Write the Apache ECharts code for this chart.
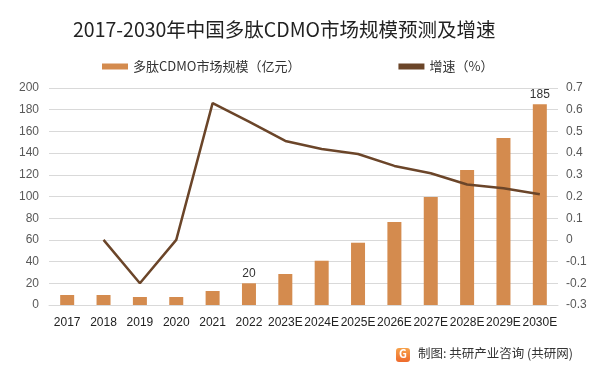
<!DOCTYPE html>
<html>
<head>
<meta charset="utf-8">
<script src="https://cdn.jsdelivr.net/npm/echarts@6/dist/echarts.min.js"></script>
<style>
  html, body { margin: 0; padding: 0; background: #fff; }
  #chart { width: 601px; height: 375px; }
</style>
</head>
<body>
<div id="chart"></div>
<script>
var years = ['2017', '2018', '2019', '2020', '2021', '2022', '2023E', '2024E', '2025E', '2026E', '2027E', '2028E', '2029E', '2030E'];
var marketSize = [9.2, 9.2, 7.4, 7.4, 12.9, 20, 28.6, 40.8, 57.4, 76.5, 99.5, 124.4, 153.9, 185];
var growthRate = ['-', 0.0, -0.2, 0.0, 0.63, 0.545, 0.456, 0.419, 0.396, 0.341, 0.307, 0.255, 0.238, 0.21];
var labelShown = ['2022', '2030E'];

var font = 'Noto Sans CJK SC';
var myChart = echarts.init(document.getElementById('chart'));

var barData = marketSize.map(function (v, i) {
    return {
        value: v,
        label: { show: labelShown.indexOf(years[i]) >= 0 }
    };
});

option = {
    backgroundColor: '#fff',
    textStyle: { fontFamily: font },
    title: {
        text: '2017-2030年中国多肽CDMO市场规模预测及增速',
        left: 68,
        top: 15,
        textStyle: { fontSize: 19.5, fontWeight: 'normal', color: '#222', fontFamily: font }
    },
    legend: {
        top: 55,
        left: 97,
        itemGap: 98,
        itemWidth: 26,
        itemHeight: 6,
        textStyle: { fontSize: 13, color: '#333', fontFamily: font },
        data: [
            { name: '多肽CDMO市场规模（亿元）', icon: 'rect' },
            { name: '增速（%）', icon: 'rect' }
        ]
    },
    grid: { left: 49, right: 43, top: 88, bottom: 70 },
    xAxis: {
        type: 'category',
        data: years,
        axisLine: { lineStyle: { color: '#d9d9d9' } },
        axisTick: { show: false },
        axisLabel: { interval: 0, color: '#222', fontSize: 12, margin: 12, fontFamily: 'Liberation Sans' }
    },
    yAxis: [
        {
            type: 'value',
            min: 0, max: 200, interval: 20,
            axisLine: { show: false },
            axisTick: { show: false },
            axisLabel: { color: '#595959', fontSize: 12, margin: 10, fontFamily: 'Liberation Sans' },
            splitLine: { lineStyle: { color: '#d9d9d9' } }
        },
        {
            type: 'value',
            min: -0.3, max: 0.7, interval: 0.1,
            axisLine: { show: false },
            axisTick: { show: false },
            axisLabel: {
                color: '#595959', fontSize: 12, margin: 8, fontFamily: 'Liberation Sans',
                formatter: function (v) { return String(Math.round(v * 10) / 10); }
            },
            splitLine: { show: false }
        }
    ],
    series: [
        {
            name: '多肽CDMO市场规模（亿元）',
            type: 'bar',
            data: barData,
            barWidth: 14,
            itemStyle: { color: '#d48b4e' },
            label: { position: 'top', color: '#333', fontSize: 12, distance: 4, fontFamily: 'Liberation Sans' }
        },
        {
            name: '增速（%）',
            type: 'line',
            yAxisIndex: 1,
            data: growthRate,
            symbol: 'none',
            lineStyle: { width: 2.5, color: '#6b4529' },
            itemStyle: { color: '#6b4529' }
        }
    ],
    graphic: [
        {
            type: 'rect',
            left: 396, top: 348,
            shape: { width: 14, height: 14, r: 3 },
            style: {
                fill: new echarts.graphic.LinearGradient(0, 0, 0, 1, [
                    { offset: 0, color: '#f7a24b' },
                    { offset: 1, color: '#ee6a2c' }
                ])
            }
        },
        {
            type: 'text',
            left: 399, top: 348,
            style: { text: 'G', fill: '#fff', font: 'bold 11px ' + font }
        },
        {
            type: 'text',
            left: 418, top: 347,
            style: { text: '制图: 共研产业咨询 (共研网)', fill: '#333', font: '12.5px ' + font }
        }
    ]
};
myChart.setOption(option);
</script>
</body>
</html>
